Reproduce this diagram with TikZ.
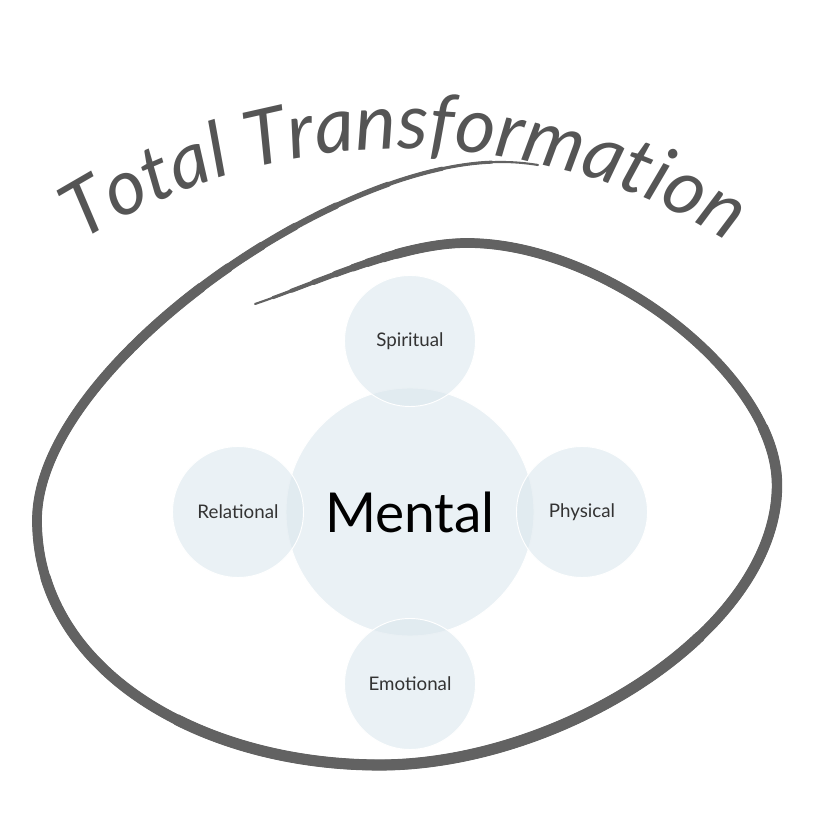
\documentclass[tikz,border=0pt]{standalone}
\usepackage{fontspec}
\setmainfont{Lato}
\IfFontExistsTF{FiraSans-LightItalic.otf}
  {\newfontfamily\handfont{FiraSans-LightItalic.otf}\newcommand\handshape{}}
  {\newfontfamily\handfont{Lato}\newcommand\handshape{\itshape}}
\usetikzlibrary{decorations.text}
\definecolor{brushgray}{HTML}{626262}
\definecolor{inkgray}{HTML}{555555}
\definecolor{bubblefill}{RGB}{218,230,237}
\definecolor{labelgray}{HTML}{333333}

\begin{document}
\begin{tikzpicture}[x=0.3mm,y=0.3mm]
      \useasboundingbox (0,0) rectangle (818,830);
      \coordinate (origo) at (410,318);

      \tikzstyle{bubble} = [
        circle,
        fill=bubblefill,
        fill opacity=0.57,
        text opacity=1,
        draw=white,
        line width=0.8pt,
        minimum size=39.3mm,
        inner sep=0pt,
        text=labelgray,
        font=\fontsize{16}{18}\selectfont
      ]
      \tikzstyle{core} = [
        bubble,
        minimum size=74.4mm,
        text=black,
        font=\fontsize{47}{50}\selectfont
      ]
      \tikzstyle{brush} = [draw=brushgray, line cap=round, line join=round]

      % brush loop
      \path[save path=\brushloop] (255,526) .. controls (320,548) and (400,587) .. (467,587)
        .. controls (606,587) and (777,454) .. (777,345)
        .. controls (777,200) and (560,65) .. (380,65)
        .. controls (200,65) and (37,160) .. (37,310)
        .. controls (37,460) and (330,668) .. (500,668)
        .. controls (515,668) and (525,667) .. (538,665);
      \draw[brush, line width=1.8pt, use path=\brushloop];
      \foreach \w/\len/\ph in {2.6/1908/6892, 3.5/1848/6815, 4.5/1780/6727, 5.5/1712/6639,
          6.3/1657/6568, 7/1611/6509, 7.7/1563/6447, 8.3/1522/6394, 8.9/850/5350, 9.5/480/4780}
        \draw[brush, line width=\w pt, dash pattern=on \len pt off 5000pt, dash phase=\ph pt, use path=\brushloop];

      % title
      \path[decorate, decoration={text along path, text align=center, text color=inkgray,
          text={|\handfont\handshape\fontsize{66}{68}\selectfont|Total Transformation}}]
        (405,71) ++(123:610) arc[start angle=123, end angle=57, radius=610];

      % core
      \node[core] (mental) at (origo) {Mental};

      % satellites
      \node[bubble] (spiritual) at ([yshift=51.3mm] origo) {Spiritual};
      \node[bubble] (relational) at ([xshift=-51.6mm] origo) {Relational};
      \node[bubble] (physical) at ([xshift=51.6mm] origo) {Physical};
      \node[bubble] (emotional) at ([yshift=-51.6mm] origo) {Emotional};
    \end{tikzpicture}
\end{document}
